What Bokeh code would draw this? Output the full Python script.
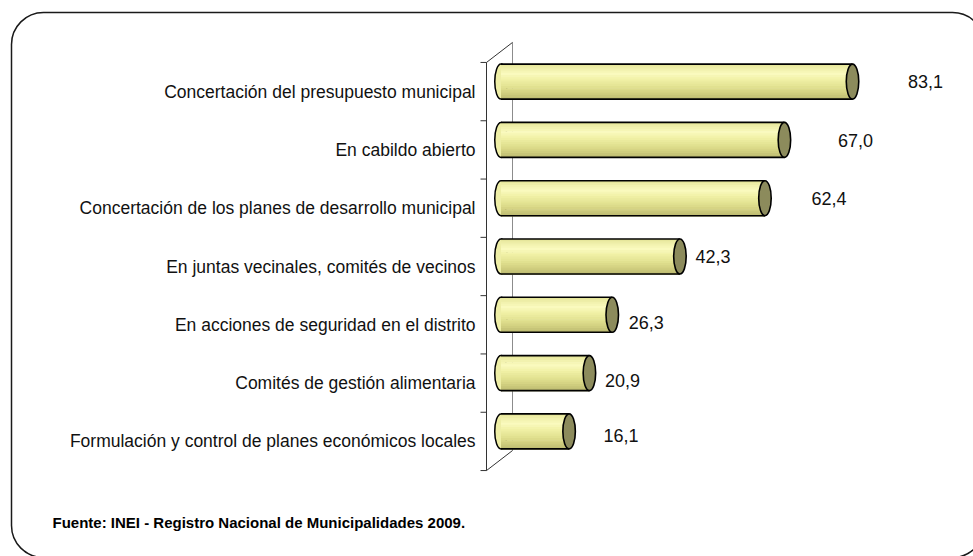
from bokeh.plotting import figure
from bokeh.models import Range1d, ColumnDataSource, BoxAnnotation
from bokeh.core.properties import value
from bokeh.embed import file_html
from bokeh.resources import INLINE

# Participation mechanisms (percent of municipalities)
categories = [
    "Concertación del presupuesto municipal",
    "En cabildo abierto",
    "Concertación de los planes de desarrollo municipal",
    "En juntas vecinales, comités de vecinos",
    "En acciones de seguridad en el distrito",
    "Comités de gestión alimentaria",
    "Formulación y control de planes económicos locales",
]
values = [83.1, 67.0, 62.4, 42.3, 26.3, 20.9, 16.1]
source_note = "Fuente: INEI - Registro Nacional de Municipalidades 2009."

# per-label nudges of the value texts (screen px)
label_dx = [73, 71, 64, 33, 34, 33, 52]
label_dy = [0, 1, 0, 0, 8, 7, 4]

W, H = 973, 556
X0 = 500.5      # pixel column of value 0
KX = 4.23       # pixels per percent
C0 = 91.1       # pixel row of the first category centre
PITCH = 58.3    # pixels per category
DEPTH_X, DEPTH_Y = 26, 20
BAR_H = 35
CAP_W = 12.5

FONT = value("Liberation Sans")


def xd(px):
    return (px - X0) / KX


def yd(py):
    return (py - C0) / PITCH


p = figure(width=W, height=H, x_range=Range1d(xd(0), xd(W)),
           y_range=Range1d(yd(H), yd(0)), min_border=0,
           x_axis_location=None, y_axis_location=None,
           toolbar_location=None, output_backend="svg")
p.grid.visible = False
p.outline_line_color = None
p.background_fill_color = "white"

# rounded outer frame
p.add_layout(BoxAnnotation(left=xd(11), right=xd(984), top=yd(12), bottom=yd(557),
                           fill_alpha=0, line_color="#1a1a1a", line_alpha=1,
                           line_width=1.5, border_radius=32))

# pseudo-3D category axis
ax_front = 486
ax_top, ax_bot = C0 - PITCH / 2, C0 + PITCH * (len(categories) - 0.5)
p.line([xd(ax_front + DEPTH_X)] * 2, [yd(ax_top - DEPTH_Y), yd(ax_bot - DEPTH_Y)],
       line_color="#8c8c8c", line_width=1)
p.line([xd(ax_front), xd(ax_front + DEPTH_X)], [yd(ax_top), yd(ax_top - DEPTH_Y)],
       line_color="#333333", line_width=1)
p.line([xd(ax_front), xd(ax_front + DEPTH_X)], [yd(ax_bot), yd(ax_bot - DEPTH_Y)],
       line_color="#333333", line_width=1)
p.line([xd(ax_front)] * 2, [yd(ax_top), yd(ax_bot)], line_color="#333333", line_width=1)
tick_y = [i - 0.5 for i in range(len(categories) + 1)]
p.segment(x0=[xd(ax_front - 6)] * len(tick_y), x1=[xd(ax_front)] * len(tick_y),
          y0=tick_y, y1=tick_y, line_color="#333333", line_width=1)

# cylinders
shift = (DEPTH_Y / 2) / PITCH
half = (BAR_H / 2) / PITCH
bar_y = [i - shift for i in range(len(values))]

stops = [(0.0, (226, 226, 150)), (0.12, (240, 240, 170)), (0.28, (250, 250, 190)),
         (0.45, (240, 240, 165)), (0.65, (226, 226, 145)), (0.82, (210, 208, 128)),
         (1.0, (188, 186, 112))]


def grad(t):
    for (t0, c0), (t1, c1) in zip(stops[:-1], stops[1:]):
        if t0 <= t <= t1:
            f = (t - t0) / (t1 - t0)
            return "#%02x%02x%02x" % tuple(round(a + (b - a) * f) for a, b in zip(c0, c1))
    return "#%02x%02x%02x" % stops[-1][1]


n_str = 16
left_cap = ColumnDataSource(dict(x=[0] * len(values), y=bar_y))
p.ellipse("x", "y", width=CAP_W, height=BAR_H, width_units="screen", height_units="screen",
          source=left_cap, fill_color="#eeeea6", line_color="black", line_width=1.5)

st = dict(left=[], right=[], top=[], bottom=[], color=[])
for v, yc in zip(values, bar_y):
    for k in range(n_str):
        st["left"].append(0)
        st["right"].append(v)
        st["top"].append(yc - half + 2 * half * k / n_str)
        st["bottom"].append(yc - half + 2 * half * (k + 1) / n_str + 0.012)
        st["color"].append(grad((k + 0.5) / n_str))
p.quad(left="left", right="right", top="top", bottom="bottom", fill_color="color",
       line_color=None, source=ColumnDataSource(st))

edges = ColumnDataSource(dict(x0=[0] * len(values), x1=values,
                              yt=[y - half for y in bar_y], yb=[y + half for y in bar_y]))
p.segment(x0="x0", x1="x1", y0="yt", y1="yt", source=edges, line_color="black", line_width=1.6)
p.segment(x0="x0", x1="x1", y0="yb", y1="yb", source=edges, line_color="black", line_width=1.6)

right_cap = ColumnDataSource(dict(x=values, y=bar_y))
p.ellipse("x", "y", width=CAP_W, height=BAR_H, width_units="screen", height_units="screen",
          source=right_cap, fill_color="#8c8b5c", line_color="black", line_width=1.6)

# value labels
vals = ColumnDataSource(dict(x=values, y=bar_y,
                             t=[f"{v:.1f}".replace(".", ",") for v in values],
                             dx=label_dx, dy=label_dy))
p.text("x", "y", text="t", x_offset="dx", y_offset="dy", source=vals,
       text_font=FONT, text_font_size="18px", text_color="#111111",
       text_align="center", text_baseline="middle")

# category labels
cats = ColumnDataSource(dict(x=[xd(475)] * len(categories), y=list(range(len(categories))),
                             t=categories))
p.text("x", "y", text="t", source=cats, text_font=FONT, text_font_size="17.5px",
       text_color="#111111", text_align="right", text_baseline="middle")

# source note
p.text(x=[xd(52)], y=[yd(522)], text=[source_note], text_font=FONT,
       text_font_size="15px", text_font_style="bold", text_color="black",
       text_align="left", text_baseline="middle")

open("out.html", "w").write(file_html(p, INLINE))
